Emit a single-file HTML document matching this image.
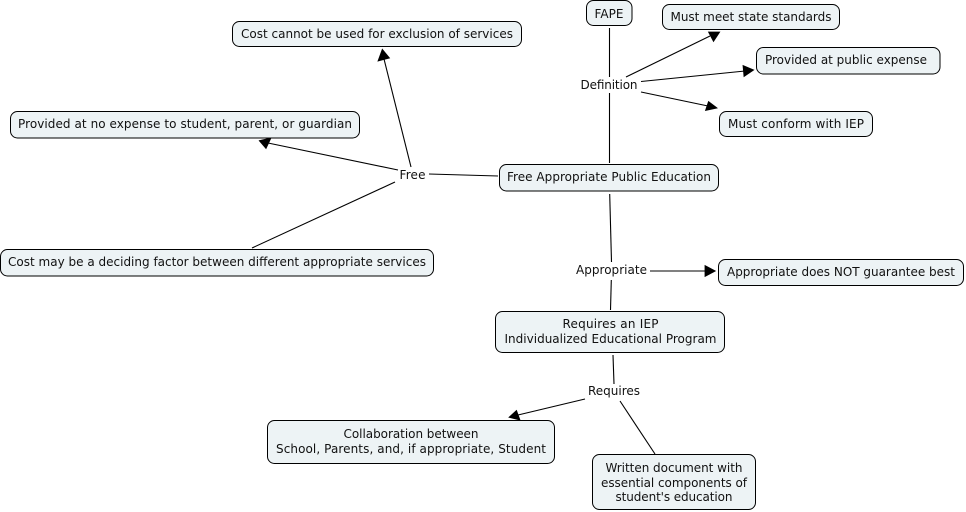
<!DOCTYPE html>
<html><head><meta charset="utf-8"><style>
html,body{margin:0;padding:0;background:#fff}
svg{display:block}
text{font-family:"DejaVu Sans","Liberation Sans",sans-serif;font-size:12px;fill:#111;text-anchor:middle}
rect{fill:#edf3f5;stroke:#000;stroke-width:1}
line{stroke:#000;stroke-width:1.1}
polygon{fill:#000;stroke:#000;stroke-width:0.8;stroke-linejoin:miter}
</style></head><body>
<svg width="966" height="512" viewBox="0 0 966 512" xmlns="http://www.w3.org/2000/svg">
<line x1="609.5" y1="28" x2="609.5" y2="77"/>
<line x1="609.5" y1="93" x2="609.5" y2="163"/>
<line x1="626" y1="77" x2="710" y2="36"/>
<polygon points="719.700,32 708.500,32 713.500,41.500"/>
<line x1="641" y1="81.5" x2="745" y2="71"/>
<polygon points="753.700,70 743,65.500 744,76.500"/>
<line x1="641" y1="92" x2="708" y2="106"/>
<polygon points="717,108 708.500,101.500 705.500,110.500"/>
<line x1="411" y1="167" x2="384" y2="59"/>
<polygon points="382.300,49.300 378,61 389.500,58"/>
<line x1="398" y1="170" x2="268" y2="143"/>
<polygon points="259.300,140.700 271,138 266,148.500"/>
<line x1="395" y1="182" x2="252" y2="248"/>
<line x1="429" y1="174" x2="498" y2="176"/>
<line x1="609.700" y1="194" x2="611.500" y2="262"/>
<line x1="611.300" y1="280" x2="610.500" y2="310"/>
<line x1="650" y1="271" x2="707" y2="271"/>
<polygon points="715.300,271 705,265.500 705,276.500"/>
<line x1="613" y1="355" x2="614" y2="384"/>
<line x1="585" y1="399" x2="518" y2="415"/>
<polygon points="509,417.300 516.500,410.500 520,420"/>
<line x1="620" y1="401" x2="655" y2="454"/>

<rect x="586.500" y="0.500" width="45.500" height="25" rx="7"/>
<rect x="662.500" y="4.500" width="177" height="25" rx="7"/>
<rect x="756.500" y="47.500" width="183.500" height="26.500" rx="7"/>
<rect x="719.500" y="111.500" width="153" height="25" rx="7"/>
<rect x="499.500" y="164.500" width="219" height="26.500" rx="7"/>
<rect x="232.500" y="21.500" width="289" height="25" rx="7"/>
<rect x="10.500" y="111.500" width="349" height="26.500" rx="7"/>
<rect x="0.500" y="249.500" width="433" height="26.500" rx="7"/>
<rect x="718.500" y="259.500" width="245" height="26" rx="7"/>
<rect x="495.500" y="311.500" width="229" height="41" rx="7"/>
<rect x="267.500" y="420.500" width="287" height="43" rx="7"/>
<rect x="592.500" y="454.500" width="163" height="55" rx="7"/>

<text x="609" y="18" textLength="29">FAPE</text>
<text x="751" y="21" textLength="161">Must meet state standards</text>
<text x="846" y="64" textLength="162">Provided at public expense</text>
<text x="796" y="128" textLength="136">Must conform with IEP</text>
<text x="609" y="181" textLength="204">Free Appropriate Public Education</text>
<text x="377" y="38" textLength="272">Cost cannot be used for exclusion of services</text>
<text x="185" y="128" textLength="334">Provided at no expense to student, parent, or guardian</text>
<text x="217" y="266" textLength="418">Cost may be a deciding factor between different appropriate services</text>
<text x="841" y="276" textLength="228">Appropriate does NOT guarantee best</text>
<text x="610.500" y="328" textLength="96">Requires an IEP</text>
<text x="610.500" y="343" textLength="212">Individualized Educational Program</text>
<text x="411" y="438" textLength="135">Collaboration between</text>
<text x="411" y="453" textLength="270">School, Parents, and, if appropriate, Student</text>
<text x="674" y="472" textLength="137">Written document with</text>
<text x="674" y="487" textLength="146">essential components of</text>
<text x="674" y="501" textLength="117">student's education</text>
<text x="609" y="89" textLength="57">Definition</text>
<text x="412.500" y="179" textLength="26">Free</text>
<text x="611.500" y="274" textLength="71">Appropriate</text>
<text x="614" y="395" textLength="52">Requires</text>
</svg>
</body></html>
